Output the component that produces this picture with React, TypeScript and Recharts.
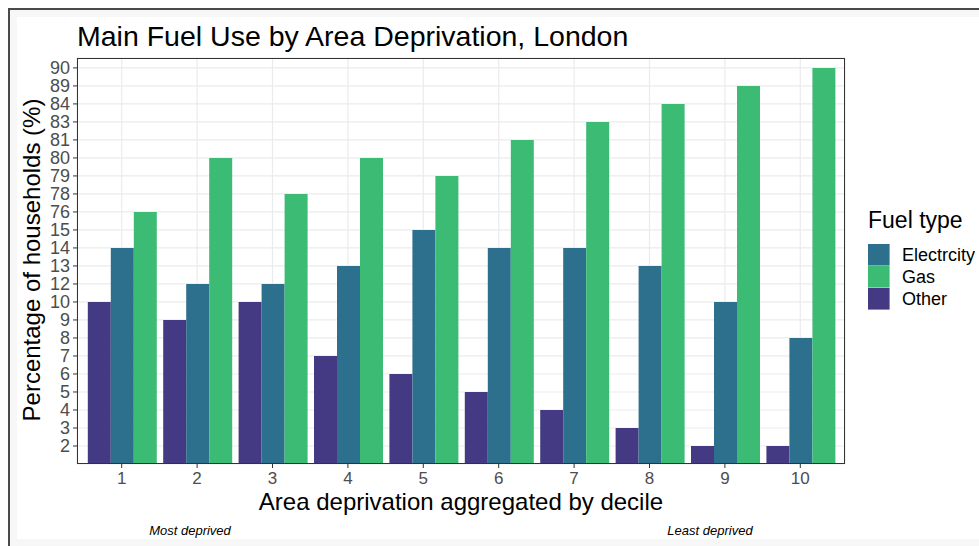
import React from 'react';
import { BarChart, Bar, XAxis, YAxis, CartesianGrid } from 'recharts';

const deciles = ['1', '2', '3', '4', '5', '6', '7', '8', '9', '10'];
// y axis is discrete in the original: these are its level labels, bottom to top
const levelLabels = [2, 3, 4, 5, 6, 7, 8, 9, 10, 12, 13, 14, 15, 76, 78, 79, 80, 81, 83, 84, 89, 90];
const otherPct = [10, 9, 10, 7, 6, 5, 4, 3, 2, 2];
const electricityPct = [14, 12, 12, 13, 15, 14, 14, 13, 10, 8];
const gasPct = [76, 80, 78, 80, 79, 81, 83, 84, 89, 90];

const seriesOrder = [
  { key: 'Other', color: '#443A83' },
  { key: 'Electrcity', color: '#2D708E' },
  { key: 'Gas', color: '#3CBB75' },
];
const legendOrder = ['Electrcity', 'Gas', 'Other'];

const toLevel = (v: number) => levelLabels.indexOf(v) + 1;

const data = deciles.map((d, i) => ({
  decile: d,
  Other: toLevel(otherPct[i]),
  Electrcity: toLevel(electricityPct[i]),
  Gas: toLevel(gasPct[i]),
}));

const levelTicks = levelLabels.map((_, i) => i + 1);
const FONT = '"Liberation Sans", Arial, Helvetica, sans-serif';

export default function App() {
  const colorOf = (k: string) => seriesOrder.find((s) => s.key === k)!.color;
  return (
    <div style={{ position: 'absolute', left: 0, top: 0, width: 979, height: 546, background: '#fff', overflow: 'hidden', fontFamily: FONT }}>
      <div style={{ position: 'absolute', left: 8, top: 8, width: 971, height: 538, borderTop: '2px solid #4a4a4a', borderLeft: '2px solid #4a4a4a', background: '#f7f7f7', boxSizing: 'border-box' }} />
      <div style={{ position: 'absolute', left: 17, top: 17, width: 962, height: 522, background: '#fff' }} />
      <div style={{ position: 'absolute', left: 0, top: 0 }}>
        <BarChart
          width={979}
          height={546}
          data={data}
          margin={{ top: 58, right: 134, bottom: 52, left: 47 }}
          barCategoryGap={3.8}
          barGap={0}
        >
          <CartesianGrid stroke="#ebebeb" strokeWidth={1.2} />
          <XAxis
            dataKey="decile"
            height={30}
            padding={{ left: 7, right: 7 }}
            axisLine={false}
            tickLine={{ stroke: '#333', strokeWidth: 1 }}
            tickSize={4}
            tickMargin={4}
            interval={0}
            tick={{ fill: '#4d4d4d', fontSize: 17, fontFamily: FONT }}
          />
          <YAxis
            type="number"
            width={30}
            domain={[0, 22.55]}
            ticks={levelTicks}
            interval={0}
            allowDataOverflow
            tickFormatter={(v: number) => String(levelLabels[v - 1])}
            axisLine={false}
            tickLine={{ stroke: '#333', strokeWidth: 1 }}
            tickSize={4}
            tickMargin={3}
            tick={{ fill: '#4d4d4d', fontSize: 18, fontFamily: FONT }}
          />
          {seriesOrder.map((s) => (
            <Bar key={s.key} dataKey={s.key} fill={s.color} isAnimationActive={false} />
          ))}
        </BarChart>
      </div>
      <div style={{ position: 'absolute', left: 77, top: 58, width: 768, height: 406, border: '1px solid #333', boxSizing: 'border-box', pointerEvents: 'none' }} />
      <svg width={979} height={546} style={{ position: 'absolute', left: 0, top: 0, pointerEvents: 'none' }} fontFamily={FONT}>
        <text x={77} y={46} fontSize={28.5} fill="#000">Main Fuel Use by Area Deprivation, London</text>
        <text x={461} y={510} fontSize={24} fill="#000" textAnchor="middle">Area deprivation aggregated by decile</text>
        <text transform="translate(40,260) rotate(-90)" fontSize={24} fill="#000" textAnchor="middle">Percentage of households (%)</text>
        <text x={190} y={535} fontSize={13} fontStyle="italic" fill="#000" textAnchor="middle">Most deprived</text>
        <text x={710} y={535} fontSize={13} fontStyle="italic" fill="#000" textAnchor="middle">Least deprived</text>
        <text x={868} y={228} fontSize={23} fill="#000">Fuel type</text>
        {legendOrder.map((k, i) => (
          <g key={k}>
            <rect x={868} y={244 + i * 22} width={21.6} height={21.6} fill={colorOf(k)} />
            <text x={902} y={255 + i * 22} dy="0.355em" fontSize={18} fill="#000">{k}</text>
          </g>
        ))}
      </svg>
    </div>
  );
}
